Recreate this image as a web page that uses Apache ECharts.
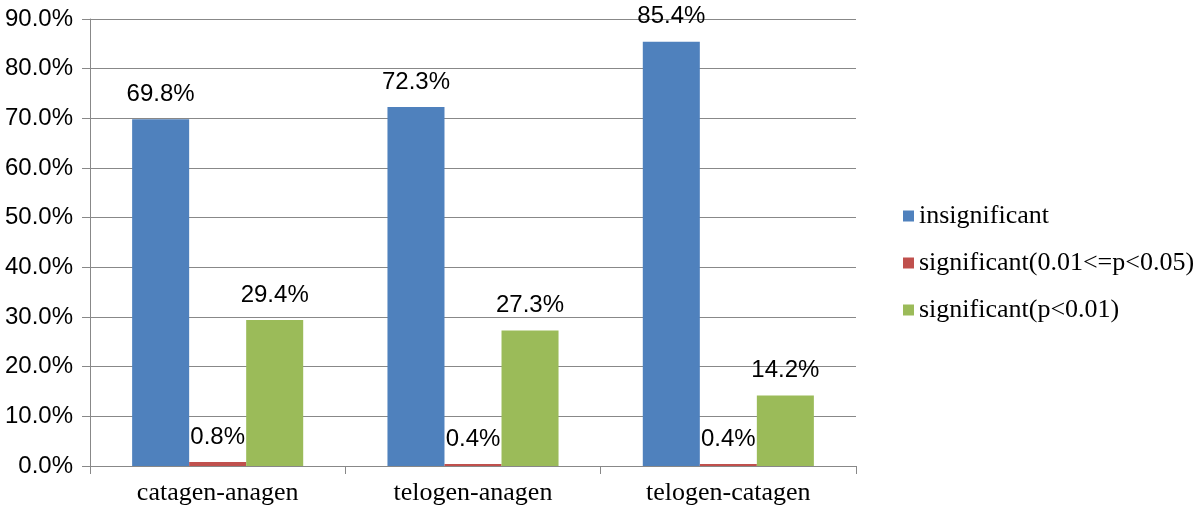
<!DOCTYPE html>
<html>
<head>
<meta charset="utf-8">
<script src="https://cdn.jsdelivr.net/npm/echarts@6/dist/echarts.min.js"></script>
<style>
  html, body { margin: 0; padding: 0; background: #fff; }
  #main { width: 1200px; height: 511px; }
</style>
</head>
<body>
<div id="main"></div>
<script>
// categories and series values (percent)
var categories = ["catagen-anagen", "telogen-anagen", "telogen-catagen"];
var insignificant = [69.8, 72.3, 85.4];
var sigMid = [0.8, 0.4, 0.4];
var sigHigh = [29.4, 27.3, 14.2];
var seriesNames = ["insignificant", "significant(0.01<=p<0.05)", "significant(p<0.01)"];
var colors = ["#4F81BD", "#C0504D", "#9BBB59"];

var chart = echarts.init(document.getElementById("main"));

function barSeries(name, data, color) {
  return {
    name: name,
    type: "bar",
    data: data,
    barGap: "0%",
    barCategoryGap: "33%",
    itemStyle: { color: color },
    label: {
      show: true,
      position: "top",
      distance: 13,
      color: "#000",
      fontFamily: "Liberation Sans",
      fontSize: 24,
      formatter: function (p) { return p.value.toFixed(1) + "%"; }
    }
  };
}

var option = {
  animation: false,
  color: colors,
  grid: { left: 90, right: 344, top: 19, bottom: 45, containLabel: false },
  legend: {
    orient: "vertical",
    left: 898,
    top: 198,
    itemWidth: 11,
    itemHeight: 11,
    itemGap: 21,
    icon: "rect",
    textStyle: { fontFamily: "Liberation Serif", fontSize: 26, color: "#000" },
    data: seriesNames
  },
  xAxis: {
    type: "category",
    data: categories,
    axisLine: { lineStyle: { color: "#888", width: 1 } },
    axisTick: { show: true, length: 8, lineStyle: { color: "#888" } },
    axisLabel: {
      margin: 14,
      color: "#000",
      fontFamily: "Liberation Serif",
      fontSize: 26
    }
  },
  yAxis: {
    type: "value",
    min: 0,
    max: 90,
    interval: 10,
    axisLine: { show: true, lineStyle: { color: "#888", width: 1 } },
    axisTick: { show: true, length: 8, lineStyle: { color: "#888" } },
    splitLine: { lineStyle: { color: "#888", width: 1 } },
    axisLabel: {
      margin: 17,
      color: "#000",
      fontFamily: "Liberation Sans",
      fontSize: 24,
      formatter: function (v) { return v.toFixed(1) + "%"; }
    }
  },
  series: [
    barSeries(seriesNames[0], insignificant, colors[0]),
    barSeries(seriesNames[1], sigMid, colors[1]),
    barSeries(seriesNames[2], sigHigh, colors[2])
  ]
};

chart.setOption(option);
</script>
</body>
</html>
